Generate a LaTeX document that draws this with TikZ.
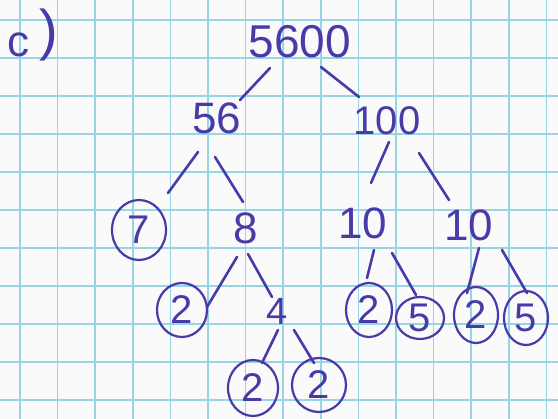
\documentclass[tikz,border=0pt]{standalone}
\usepackage{fontspec}
\setmainfont{Liberation Sans}
\usetikzlibrary{calc,shapes.geometric}
\definecolor{pen}{RGB}{72,58,168}
\definecolor{gridc}{RGB}{150,214,228}
\definecolor{paper}{RGB}{250,250,250}
\tikzset{
  num/.style={text=pen,inner sep=0pt,font=\fontsize{44}{44}\selectfont},
  cnum/.style={draw=pen,line width=2.2pt,ellipse,inner sep=0pt,text=pen,font=\fontsize{40}{40}\selectfont},
  edge/.style={draw=pen,line width=2.6pt,line cap=round}
}
\begin{document}
\begin{tikzpicture}[x=1pt,y=-1pt]
\fill[paper] (0,0) rectangle (558,419);
\useasboundingbox (0,0) rectangle (558,419);
% grid
\foreach \k in {0,...,14} {\draw[gridc,line width=1.6pt] ({20+37.6*\k},0) -- ({20+37.6*\k},419);}
\foreach \k in {0,...,10} {\draw[gridc,line width=1.6pt] (0,{20+38*\k}) -- (558,{20+38*\k});}
% label
\node[num,font=\fontsize{44}{44}\selectfont] (lc) at (19,45) {c};
\node[num,font=\fontsize{56}{56}\selectfont] (lp) at (49,35) {)};
% nodes
\node[num,font=\fontsize{46}{46}\selectfont] (n5600) at (300,42) {5600};
\node[num] (n56) at (217,118) {56};
\node[num,font=\fontsize{40}{40}\selectfont] (n100) at (387,121) {100};
\node[cnum,minimum width=54pt,minimum height=60pt] (n7) at (139,230) {7};
\node[num] (n8) at (246,228) {8};
\node[num] (n10a) at (363,223) {10};
\node[num] (n10b) at (469,225) {10};
\node[cnum,minimum width=50pt,minimum height=54pt] (n2a) at (182,310) {2};
\node[num,font=\fontsize{38}{38}\selectfont] (n4) at (277,311) {4};
\node[cnum,minimum width=46pt,minimum height=54pt] (n2b) at (369,310) {2};
\node[cnum,minimum width=48pt,minimum height=42pt] (n5a) at (420,318) {5};
\node[cnum,minimum width=44pt,minimum height=56pt] (n2c) at (476,315) {2};
\node[cnum,minimum width=44pt,minimum height=54pt] (n5b) at (526,318) {5};
\node[cnum,minimum width=50pt,minimum height=56pt] (n2d) at (253,388) {2};
\node[cnum,minimum width=54pt,minimum height=54pt] (n2e) at (319,385) {2};
% connectors
\draw[edge] ($(n5600)+(-30,26)$) -- ($(n56)+(23,-18)$);
\draw[edge] ($(n5600)+(21,25)$) -- ($(n100)+(-28,-24)$);
\draw[edge] ($(n56)+(-19,34)$) -- ($(n7)+(29,-37)$);
\draw[edge] ($(n56)+(-2,39)$) -- ($(n8)+(-3,-26)$);
\draw[edge] ($(n100)+(2,21)$) -- ($(n10a)+(8,-40)$);
\draw[edge] ($(n100)+(32,32)$) -- ($(n10b)+(-20,-25)$);
\draw[edge] ($(n8)+(-9,29)$) -- ($(n2a)+(25,-3)$);
\draw[edge] ($(n8)+(2,26)$) -- ($(n4)+(-5,-14)$);
\draw[edge] ($(n4)+(1,19)$) -- ($(n2d)+(9,-25)$);
\draw[edge] ($(n4)+(17,19)$) -- ($(n2e)+(-5,-22)$);
\draw[edge] ($(n10a)+(11,27)$) -- ($(n2b)+(-2,-32)$);
\draw[edge] ($(n10a)+(29,30)$) -- ($(n5a)+(-4,-23)$);
\draw[edge] ($(n10b)+(10,23)$) -- ($(n2c)+(-9,-22)$);
\draw[edge] ($(n10b)+(33,25)$) -- ($(n5b)+(1,-25)$);
\end{tikzpicture}
\end{document}
